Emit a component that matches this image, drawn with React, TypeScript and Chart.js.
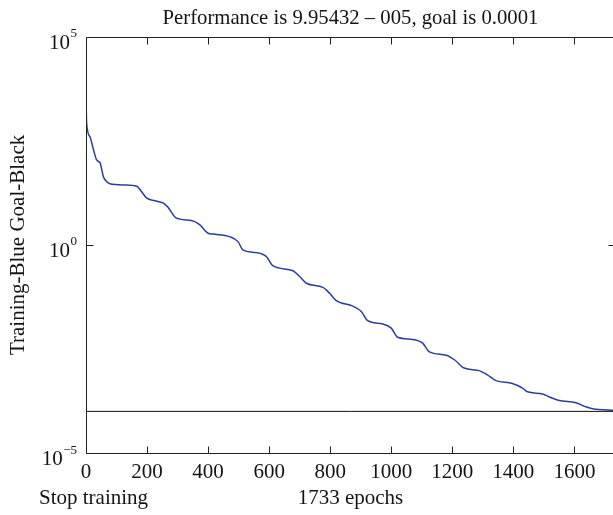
import React, { useEffect, useRef } from "react";
import { Chart, registerables } from "chart.js";

Chart.register(...registerables);

// ---- data ----
const epochs = [
  0, 2, 13, 23, 35, 46, 57, 65, 78, 128,
  166, 180, 198, 226, 252, 268, 291, 307, 356, 373,
  400, 416, 471, 498, 514, 558, 591, 613, 678, 700,
  722, 776, 798, 820, 874, 902, 923, 972, 1000, 1021,
  1070, 1103, 1125, 1180, 1207, 1239, 1288, 1316, 1343, 1397,
  1430, 1446, 1495, 1517, 1550, 1605, 1637, 1670, 1723, 1733,
];
const performance = [
  3715, 851, 398, 214, 110, 93.3, 43.6, 34.7, 29.5, 27.5,
  25.7, 20.0, 13.5, 11.5, 10.2, 8.13, 4.68, 4.17, 3.63, 3.02,
  1.91, 1.82, 1.58, 1.2, 0.759, 0.653, 0.525, 0.313, 0.24, 0.174,
  0.12, 0.0955, 0.0692, 0.0457, 0.0339, 0.0251, 0.0151, 0.0126, 0.01, 0.00603,
  0.00537, 0.00437, 0.00269, 0.00224, 0.00174, 0.0011, 0.000955, 0.000741, 0.00055, 0.000468,
  0.000363, 0.000295, 0.000263, 0.000224, 0.000182, 0.000162, 0.000129, 0.000112, 0.000107, 0.0000995,
];
const goal = 0.0001;
const totalEpochs = 1733;
const xTicks = [0, 200, 400, 600, 800, 1000, 1200, 1400, 1600];
const yTicks = [1e-5, 1, 1e5];
const titleText = "Performance is 9.95432 \u2013 005, goal is 0.0001";
const yTitle = "Training-Blue Goal-Black";
const xTitle = "1733 epochs";
const stopText = "Stop training";

const FAMILY = "'Liberation Serif', 'DejaVu Serif', serif";
const TEXT = "#141414";
const AXIS = "#222";

const decor = {
  id: "decor",
  afterDraw(chart: any) {
    const { ctx, chartArea, scales } = chart;
    const { left, right, top, bottom } = chartArea;
    const x = scales.x;
    const y = scales.y;
    ctx.save();
    ctx.strokeStyle = AXIS;
    ctx.lineWidth = 1;
    const L = Math.round(left) + 0.5;
    const T = Math.round(top) + 0.5;
    const R = Math.round(right) + 0.5;
    const B = Math.round(bottom) + 0.5;
    ctx.beginPath();
    ctx.moveTo(L, T);
    ctx.lineTo(R, T);
    ctx.lineTo(R, B);
    ctx.lineTo(L, B);
    ctx.closePath();
    ctx.stroke();
    const tl = 7;
    ctx.beginPath();
    for (const v of xTicks) {
      const px = Math.round(x.getPixelForValue(v)) + 0.5;
      ctx.moveTo(px, B);
      ctx.lineTo(px, B - tl);
      ctx.moveTo(px, T);
      ctx.lineTo(px, T + tl);
    }
    for (const v of yTicks) {
      const py = Math.round(y.getPixelForValue(v)) + 0.5;
      ctx.moveTo(L, py);
      ctx.lineTo(L + tl, py);
      ctx.moveTo(R, py);
      ctx.lineTo(R - tl, py);
    }
    ctx.stroke();

    // y tick labels 10^n
    ctx.fillStyle = TEXT;
    ctx.textBaseline = "alphabetic";
    ctx.textAlign = "right";
    const labelRight = left - 9;
    for (const v of yTicks) {
      const py = y.getPixelForValue(v);
      const e = Math.round(Math.log10(v));
      const expStr = e < 0 ? "\u2212" + Math.abs(e) : String(e);
      ctx.font = `13px ${FAMILY}`;
      const ew = ctx.measureText(expStr).width;
      ctx.fillText(expStr, labelRight, py + 0.5);
      ctx.font = `21px ${FAMILY}`;
      ctx.fillText("10", labelRight - ew - 0.5, py + 12);
    }

    ctx.textAlign = "left";
    ctx.font = `21px ${FAMILY}`;
    ctx.fillText(stopText, 39, 504);
    ctx.restore();
  },
};

export default function App() {
  const ref = useRef<HTMLCanvasElement | null>(null);
  useEffect(() => {
    if (!ref.current) return;
    const font = { family: FAMILY, size: 21, weight: "normal" as const };
    const chart = new Chart(ref.current, {
      type: "line",
      data: {
        datasets: [
          {
            data: [
              { x: 0, y: goal },
              { x: totalEpochs, y: goal },
            ],
            borderColor: "#111",
            borderWidth: 1,
            pointRadius: 0,
            fill: false,
          },
          {
            data: epochs.map((e, i) => ({ x: e, y: performance[i] })),
            borderColor: "#2b3ea0",
            borderWidth: 1.5,
            pointRadius: 0,
            cubicInterpolationMode: "monotone",
            fill: false,
          },
        ],
      },
      options: {
        responsive: false,
        animation: false,
        devicePixelRatio: 1,
        layout: { padding: { left: 0, right: 10, top: 0, bottom: 0 } },
        plugins: {
          legend: { display: false },
          tooltip: { enabled: false },
          title: {
            display: true,
            text: titleText,
            fullSize: false,
            color: TEXT,
            font: { family: FAMILY, size: 20.7, weight: "normal" },
            padding: { top: 6, bottom: 6 },
          },
        },
        scales: {
          x: {
            type: "linear",
            min: 0,
            max: totalEpochs,
            grid: { display: false },
            border: { display: false },
            afterBuildTicks: (s: any) => {
              s.ticks = xTicks.map((v) => ({ value: v }));
            },
            ticks: {
              font,
              color: TEXT,
              padding: -1,
              maxRotation: 0,
              autoSkip: false,
              callback: (v: any) => String(v),
            },
            title: {
              display: true,
              text: xTitle,
              color: TEXT,
              font,
              padding: { top: 0, bottom: 4 },
            },
            afterFit: (s: any) => {
              s.height = 62;
            },
          },
          y: {
            type: "logarithmic",
            min: 1e-5,
            max: 1e5,
            grid: { display: false },
            border: { display: false },
            ticks: { display: false },
            title: {
              display: true,
              text: yTitle,
              color: TEXT,
              font,
              padding: { top: 6, bottom: 0 },
            },
            afterFit: (s: any) => {
              s.width = 86;
            },
          },
        },
      },
      plugins: [decor],
    } as any);
    return () => chart.destroy();
  }, []);
  return (
    <div
      style={{
        position: "fixed",
        left: 0,
        top: 0,
        width: 613,
        height: 515,
        overflow: "hidden",
        background: "#fff",
      }}
    >
      <canvas
        ref={ref}
        width={625}
        height={515}
        style={{ display: "block", width: 625, height: 515 }}
      />
    </div>
  );
}
